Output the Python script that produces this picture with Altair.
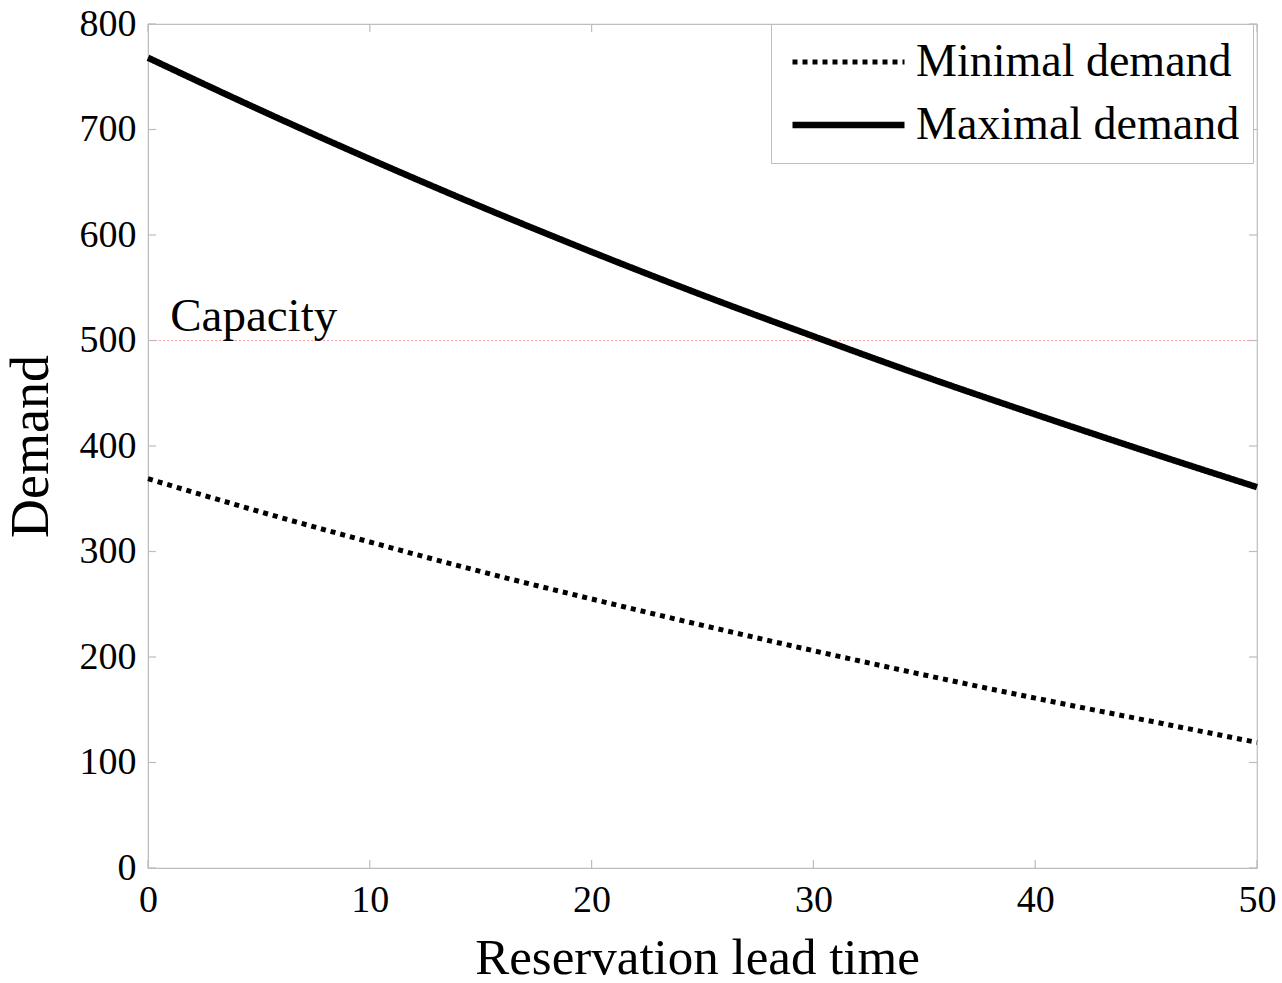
import altair as alt
import pandas as pd

lead_time = [0, 5, 10, 15, 20, 25, 30, 35, 40, 45, 50]
maximal = [768, 719, 672, 627, 584, 543, 504, 466, 430, 395, 361]
minimal = [369, 338, 309, 281, 255, 230, 206, 183, 161, 140, 119]
series_names = ["Minimal demand", "Maximal demand"]
x_ticks = [0, 10, 20, 30, 40, 50]
y_ticks = [0, 100, 200, 300, 400, 500, 600, 700, 800]
capacity = 500

rows = []
for t, v in zip(lead_time, minimal):
    rows.append({"t": t, "demand": v, "series": series_names[0]})
for t, v in zip(lead_time, maximal):
    rows.append({"t": t, "demand": v, "series": series_names[1]})
df = pd.DataFrame(rows)

W, H = 1109, 844
FONT = "Liberation Serif"
GRAY = "#bdbdbd"

xscale = alt.Scale(domain=[0, 50], nice=False, zero=False)
yscale = alt.Scale(domain=[0, 800], nice=False)

lines = alt.Chart(df).mark_line(interpolate="monotone", strokeCap="butt").encode(
    x=alt.X("t:Q", scale=xscale,
            axis=alt.Axis(title="Reservation lead time", values=x_ticks, ticks=False,
                          grid=False, domainColor=GRAY, labelFont=FONT, labelFontSize=38,
                          labelColor="black", labelPadding=13, labelFlush=False,
                          titleFont=FONT, titleFontSize=51, titleFontWeight="normal",
                          titleColor="black", titleX=549, titleY=105,
                          titleAlign="center", titleBaseline="alphabetic")),
    y=alt.Y("demand:Q", scale=yscale,
            axis=alt.Axis(title="Demand", values=y_ticks, ticks=False, grid=False,
                          domainColor=GRAY, labelFont=FONT, labelFontSize=38,
                          labelColor="black", labelPadding=12, labelFlush=False,
                          titleFont=FONT, titleFontSize=54, titleFontWeight="normal",
                          titleColor="black", titleAngle=270, titleX=-117, titleY=422,
                          titleAlign="center", titleBaseline="middle")),
    color=alt.Color("series:N",
                    scale=alt.Scale(domain=series_names, range=["black", "black"]),
                    legend=alt.Legend(title=None, orient="none", legendX=623, legendY=0,
                                      symbolType="stroke", symbolSize=12544,
                                      symbolStrokeWidth=5, labelFont=FONT,
                                      labelFontSize=46, labelColor="black",
                                      labelOffset=8, strokeColor=GRAY, padding=13,
                                      symbolOffset=5, clipHeight=50,
                                      rowPadding=13, fillColor="white", labelLimit=0)),
    strokeDash=alt.StrokeDash("series:N",
                              scale=alt.Scale(domain=series_names, range=[[5, 5], [1, 0]]),
                              legend=None),
    strokeWidth=alt.StrokeWidth("series:N",
                                scale=alt.Scale(domain=series_names, range=[5, 6.5]),
                                legend=None),
    order=alt.Order("t:Q"),
)

cap_df = pd.DataFrame({"y": [capacity], "x": [1], "label": ["Capacity"]})
cap_line = alt.Chart(cap_df).mark_rule(color="#ff9e9e", strokeWidth=1, strokeDash=[2, 2]).encode(
    y=alt.Y("y:Q", scale=yscale)
)
cap_text = alt.Chart(cap_df).mark_text(align="left", baseline="alphabetic", dy=-10,
                                        font=FONT, fontSize=47, color="black").encode(
    x=alt.X("x:Q", scale=xscale), y=alt.Y("y:Q", scale=yscale), text="label:N"
)

xt = pd.DataFrame({"t": x_ticks})
yt = pd.DataFrame({"v": y_ticks})
tick_style = dict(color=GRAY, strokeWidth=1.2)
xb = alt.Chart(xt).mark_rule(**tick_style).encode(
    x=alt.X("t:Q", scale=xscale), y=alt.value(H), y2=alt.value(H - 8))
xtop = alt.Chart(xt).mark_rule(**tick_style).encode(
    x=alt.X("t:Q", scale=xscale), y=alt.value(0), y2=alt.value(8))
yl = alt.Chart(yt).mark_rule(**tick_style).encode(
    y=alt.Y("v:Q", scale=yscale), x=alt.value(0), x2=alt.value(8))
yr = alt.Chart(yt).mark_rule(**tick_style).encode(
    y=alt.Y("v:Q", scale=yscale), x=alt.value(W), x2=alt.value(W - 8))

chart = alt.layer(cap_line, xb, xtop, yl, yr, lines, cap_text).properties(
    width=W, height=H,
    autosize=alt.AutoSizeParams(type="none"),
    padding={"left": 148, "top": 24, "right": 25, "bottom": 115},
    background="white",
).configure_view(stroke=GRAY, strokeWidth=1.2)

chart.save("out.html", embed_options={"renderer": "svg", "actions": False})
